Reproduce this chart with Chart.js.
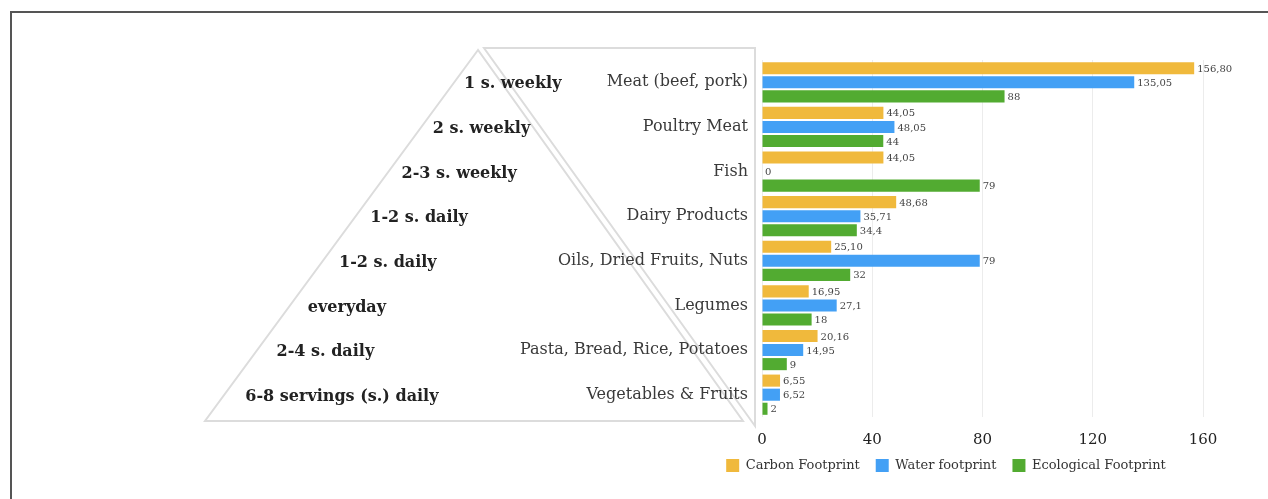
<!DOCTYPE html>
<html lang="en">
<head>
    <meta charset="UTF-8">
    <title>Food Pyramid Footprints</title>
    <script src="https://cdn.jsdelivr.net/npm/chart.js"></script>
    <style>
        html, body { margin: 0; padding: 0; background: #fff; }
        .wrap { position: relative; width: 1268px; height: 499px; }
    </style>
</head>
<body>
    <div class="wrap">
        <canvas id="myChart"></canvas>
    </div>

    <script>
        // Data
        var categories = ['Meat (beef, pork)', 'Poultry Meat', 'Fish', 'Dairy Products',
                          'Oils, Dried Fruits, Nuts', 'Legumes', 'Pasta, Bread, Rice, Potatoes', 'Vegetables & Fruits'];
        var frequencies = ['1 s. weekly', '2 s. weekly', '2-3 s. weekly', '1-2 s. daily',
                           '1-2 s. daily', 'everyday', '2-4 s. daily', '6-8 servings (s.) daily'];
        var carbonFootprint = [156.80, 44.05, 44.05, 48.68, 25.10, 16.95, 20.16, 6.55];
        var waterFootprint = [135.05, 48.05, 0, 35.71, 79, 27.1, 14.95, 6.52];
        var ecologicalFootprint = [88, 44, 79, 34.4, 32, 18, 9, 2];
        var xTicks = [0, 40, 80, 120, 160];

        var serif = '"DejaVu Serif", "Liberation Serif", serif';

        // pyramid outline drawn behind the chart, labels follow the y scale
        var pyramidPlugin = {
            id: 'pyramid',
            beforeDraw: function(chart) {
                var ctx = chart.ctx;
                var yScale = chart.scales.y;
                ctx.save();

                // frame
                ctx.strokeStyle = '#555';
                ctx.lineWidth = 2;
                ctx.beginPath();
                ctx.moveTo(11, 499);
                ctx.lineTo(11, 12);
                ctx.lineTo(1268, 12);
                ctx.stroke();

                // front triangle
                var apex = { x: 478, y: 50 }, left = { x: 205, y: 421 }, right = { x: 743, y: 421 };
                ctx.strokeStyle = '#dcdcdc';
                ctx.lineWidth = 2;
                ctx.beginPath();
                ctx.moveTo(apex.x, apex.y);
                ctx.lineTo(left.x, left.y);
                ctx.lineTo(right.x, right.y);
                ctx.closePath();
                ctx.stroke();

                // side face
                ctx.beginPath();
                ctx.moveTo(484, 48);
                ctx.lineTo(755, 48);
                ctx.lineTo(755, 426);
                ctx.closePath();
                ctx.stroke();

                // frequency labels, left aligned along the left side
                ctx.fillStyle = '#222';
                ctx.font = 'bold 16px ' + serif;
                ctx.textAlign = 'left';
                ctx.textBaseline = 'middle';
                frequencies.forEach(function(f, i) {
                    var y = yScale.getPixelForValue(i) + 2;
                    var x = apex.x - (y - apex.y) * 0.70 + 10;
                    ctx.fillText(f, x, y);
                });
                ctx.restore();
            }
        };

        // value labels right of each bar
        var valueLabels = {
            id: 'valueLabels',
            afterUpdate: function(chart) {
                // centre the legend row under the bars like the original
                var lg = chart.legend;
                if (lg) {
                    var h = lg.height;
                    lg.left = 689;
                    lg.right = 1203;
                    lg.width = lg.right - lg.left;
                    lg.top = 443;
                    lg.bottom = lg.top + h;
                    lg.adjustHitBoxes();
                }
            },
            afterDatasetsDraw: function(chart) {
                var ctx = chart.ctx;
                ctx.save();
                ctx.font = '10px ' + serif;
                ctx.fillStyle = '#444';
                ctx.textAlign = 'left';
                ctx.textBaseline = 'middle';
                chart.data.datasets.forEach(function(ds, di) {
                    var meta = chart.getDatasetMeta(di);
                    meta.data.forEach(function(bar, i) {
                        var v = ds.data[i];
                        var txt = (di === 0 ? v.toFixed(2) : String(v)).replace('.', ',');
                        ctx.fillText(txt, bar.x + 3, bar.y + 1);
                    });
                });
                ctx.restore();
            }
        };

        var ctx = document.getElementById('myChart').getContext('2d');
        var myChart = new Chart(ctx, {
            type: 'bar',
            data: {
                labels: categories,
                datasets: [
                    { label: 'Carbon Footprint', data: carbonFootprint, backgroundColor: '#f0b93c' },
                    { label: 'Water footprint', data: waterFootprint, backgroundColor: '#43a0f5' },
                    { label: 'Ecological Footprint', data: ecologicalFootprint, backgroundColor: '#52ab31' }
                ]
            },
            options: {
                indexAxis: 'y',
                responsive: true,
                maintainAspectRatio: false,
                animation: false,
                categoryPercentage: 0.946,
                barPercentage: 0.86,
                layout: { padding: { top: 60, right: 65, left: 0, bottom: 15 } },
                plugins: {
                    tooltip: { enabled: false },
                    legend: {
                        position: 'bottom',
                        labels: {
                            boxWidth: 13,
                            boxHeight: 13,
                            padding: 16,
                            color: '#333',
                            font: { family: serif, size: 13 }
                        }
                    }
                },
                scales: {
                    x: {
                        min: 0,
                        max: 160,
                        afterBuildTicks: function(scale) {
                            scale.ticks = xTicks.map(function(v) { return { value: v }; });
                        },
                        grid: { color: '#ececec', drawTicks: false },
                        border: { display: false },
                        ticks: {
                            padding: 14,
                            color: '#222',
                            font: { family: serif, size: 15 }
                        },
                        afterFit: function(scale) { scale.height = 28; }
                    },
                    y: {
                        grid: { display: false, drawTicks: false },
                        border: { display: false },
                        ticks: {
                            padding: 14,
                            color: '#3a3a3a',
                            font: { family: serif, size: 16 }
                        },
                        afterFit: function(scale) { scale.width = 762; }
                    }
                }
            },
            plugins: [pyramidPlugin, valueLabels]
        });
    </script>
</body>
</html>
